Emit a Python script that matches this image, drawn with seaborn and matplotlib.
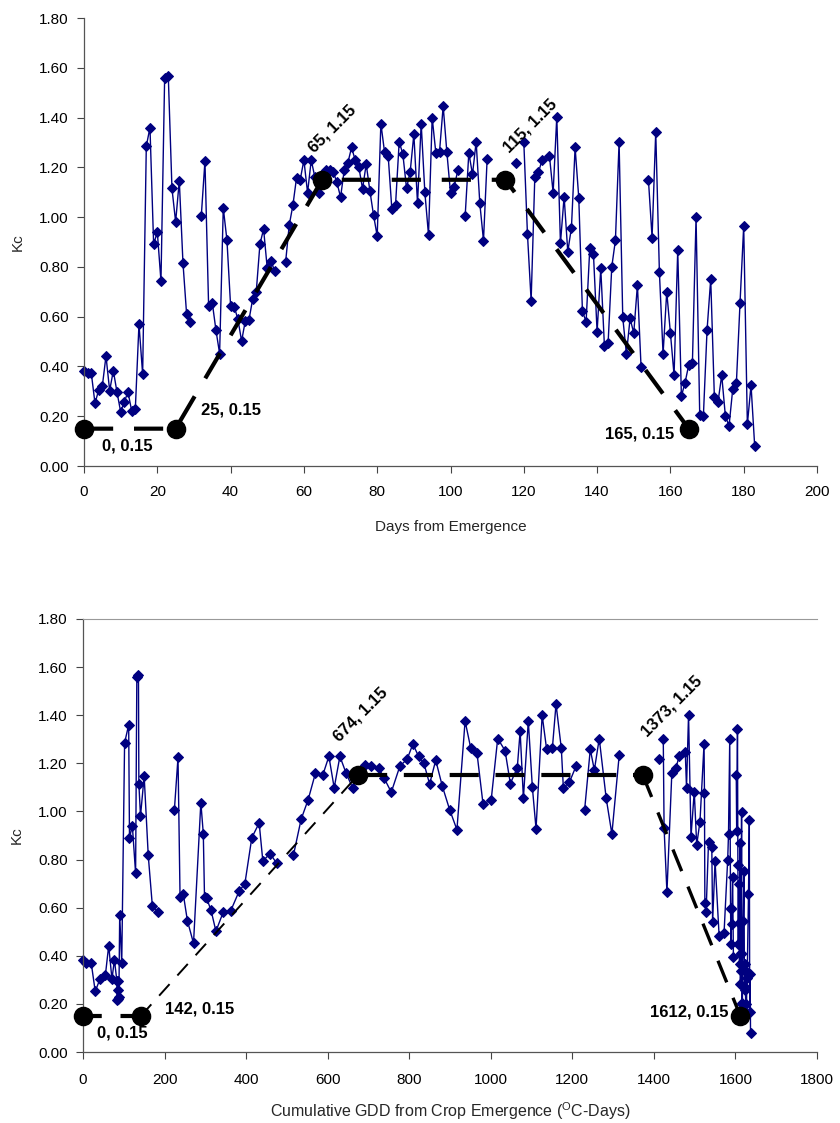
import numpy as np
import pandas as pd
import matplotlib
matplotlib.use("Agg")
import matplotlib.pyplot as plt
from matplotlib import font_manager
import seaborn as sns

# Daily crop coefficient observations (days with no measurement are omitted)
days = [0, 1, 2, 3, 4, 5, 6, 7, 8, 9, 10, 11, 12, 13, 14, 15, 16, 17, 18, 19,
        20, 21, 22, 23, 24, 25, 26, 27, 28, 29, 32, 33, 34, 35, 36, 37, 38, 39,
        40, 41, 42, 43, 44, 45, 46, 47, 48, 49, 50, 51, 52, 55, 56, 57, 58, 59,
        60, 61, 62, 63, 64, 65, 66, 67, 68, 69, 70, 71, 72, 73, 74, 75, 76, 77,
        78, 79, 80, 81, 82, 83, 84, 85, 86, 87, 88, 89, 90, 91, 92, 93, 94, 95,
        96, 97, 98, 99, 100, 101, 102, 104, 105, 106, 107, 108, 109, 110, 118,
        120, 121, 122, 123, 124, 125, 127, 128, 129, 130, 131, 132, 133, 134,
        135, 136, 137, 138, 139, 140, 141, 142, 143, 144, 145, 146, 147, 148,
        149, 150, 151, 152, 154, 155, 156, 157, 158, 159, 160, 161, 162, 163,
        164, 165, 166, 167, 168, 169, 170, 171, 172, 173, 174, 175, 176, 177,
        178, 179, 180, 181, 182, 183]

kc = [0.383, 0.372, 0.372, 0.252, 0.305, 0.321, 0.442, 0.303, 0.383, 0.297,
      0.218, 0.258, 0.297, 0.222, 0.228, 0.570, 0.369, 1.285, 1.360, 0.890,
      0.941, 0.743, 1.557, 1.566, 1.115, 0.981, 1.146, 0.817, 0.609, 0.580,
      1.004, 1.225, 0.643, 0.656, 0.546, 0.452, 1.037, 0.908, 0.643, 0.640,
      0.589, 0.502, 0.582, 0.586, 0.669, 0.700, 0.891, 0.952, 0.794, 0.825,
      0.784, 0.818, 0.968, 1.048, 1.159, 1.151, 1.229, 1.098, 1.229, 1.160,
      1.098, 1.170, 1.191, 1.188, 1.181, 1.140, 1.080, 1.188, 1.218, 1.280,
      1.229, 1.200, 1.114, 1.213, 1.106, 1.008, 0.924, 1.376, 1.262, 1.245,
      1.031, 1.048, 1.303, 1.253, 1.116, 1.182, 1.333, 1.055, 1.376, 1.100,
      0.928, 1.400, 1.258, 1.262, 1.446, 1.262, 1.098, 1.122, 1.188, 1.004,
      1.258, 1.172, 1.303, 1.055, 0.906, 1.235, 1.217, 1.302, 0.931, 0.664,
      1.160, 1.180, 1.230, 1.246, 1.098, 1.403, 0.895, 1.082, 0.861, 0.958,
      1.280, 1.077, 0.621, 0.580, 0.874, 0.853, 0.539, 0.794, 0.482, 0.493,
      0.800, 0.907, 1.301, 0.597, 0.450, 0.593, 0.534, 0.727, 0.396, 1.151,
      0.918, 1.343, 0.778, 0.450, 0.700, 0.535, 0.365, 0.867, 0.281, 0.335,
      0.406, 0.412, 0.999, 0.205, 0.201, 0.546, 0.751, 0.276, 0.258, 0.365,
      0.201, 0.161, 0.308, 0.332, 0.656, 0.964, 0.167, 0.325, 0.080]

# Cumulative growing degree days on each observation day
gdd = [0, 8, 20, 30, 42, 55, 63, 71, 77, 83, 84, 85, 86, 87, 88, 90, 95, 102,
       112, 114, 121, 129, 132, 136, 137, 141, 150, 160, 170, 184, 224, 233,
       238, 246, 256, 271, 289, 295, 298, 303, 314, 326, 344, 362, 383, 397,
       414, 432, 441, 459, 475, 516, 535, 552, 570, 588, 603, 616, 630, 645,
       661, 675, 691, 707, 725, 738, 756, 777, 795, 809, 823, 836, 850, 865,
       881, 899, 917, 937, 951, 966, 981, 1001, 1017, 1035, 1048, 1065, 1072,
       1080, 1092, 1102, 1111, 1126, 1137, 1151, 1160, 1173, 1178, 1193, 1209,
       1230, 1244, 1254, 1266, 1283, 1297, 1315, 1412, 1423, 1425, 1432, 1444,
       1454, 1462, 1477, 1480, 1485, 1491, 1499, 1505, 1513, 1523, 1524, 1525,
       1528, 1534, 1542, 1544, 1550, 1560, 1572, 1581, 1583, 1586, 1588, 1589,
       1590, 1591, 1593, 1595, 1602, 1603, 1605, 1606, 1607, 1608, 1609, 1610,
       1611, 1612, 1613, 1614, 1614, 1615, 1616, 1617, 1619, 1621, 1622, 1623,
       1624, 1625, 1627, 1628, 1629, 1632, 1634, 1635, 1636, 1637]

# Crop coefficient curve break points
curve_days = [0, 25, 65, 115, 165]
curve_gdd = [0, 142, 674, 1373, 1612]
curve_kc = [0.15, 0.15, 1.15, 1.15, 0.15]

df = pd.DataFrame({"day": days, "kc": kc, "gdd": gdd})
df["run"] = (df["day"].diff().fillna(1) > 1).cumsum()

sns.set_theme(style="ticks")
names = {f.name for f in font_manager.fontManager.ttflist}
base_font = "Liberation Sans" if "Liberation Sans" in names else "DejaVu Sans"
narrow_font = "Liberation Sans Narrow" if "Liberation Sans Narrow" in names else base_font
plt.rcParams["font.family"] = [base_font, "DejaVu Sans"]
plt.rcParams["mathtext.fontset"] = "custom"
plt.rcParams["mathtext.rm"] = narrow_font
plt.rcParams["mathtext.it"] = narrow_font

NAVY = "#000080"

fig = plt.figure(figsize=(8.4, 11.23), dpi=100)
ax1 = fig.add_axes([84 / 840, 1 - 466 / 1123, (817 - 84) / 840, (466 - 18) / 1123])
ax2 = fig.add_axes([83 / 840, 1 - 1052 / 1123, (817 - 83) / 840, (1052 - 619) / 1123])


def draw_obs(ax, xcol):
    sns.lineplot(data=df, x=xcol, y="kc", units="run", estimator=None,
                 sort=False, color=NAVY, linewidth=1.0, marker="D",
                 markersize=5.5, markeredgecolor=NAVY, markerfacecolor=NAVY,
                 ax=ax, legend=False, clip_on=False)


def style_axes(ax, xmax, xstep, tick_font, xpad):
    ax.set_xlim(0, xmax)
    ax.set_ylim(0, 1.8)
    ax.set_xticks(np.arange(0, xmax + 1, xstep))
    ax.set_yticks(np.arange(0, 1.81, 0.2))
    ax.set_yticklabels([f"{v:.2f}" for v in np.arange(0, 1.81, 0.2)],
                       fontsize=11)
    ax.set_xticklabels([f"{int(v)}" for v in np.arange(0, xmax + 1, xstep)],
                       fontsize=11, family=tick_font)
    ax.tick_params(direction="out", length=5, width=0.8, colors="#444444",
                   labelcolor="black")
    ax.tick_params(axis="y", pad=6)
    ax.tick_params(axis="x", pad=xpad)
    for side in ("top", "right"):
        ax.spines[side].set_visible(False)
    for side in ("left", "bottom"):
        ax.spines[side].set_color("#555555")
        ax.spines[side].set_linewidth(0.9)
    ax.set_ylabel("Kc", fontsize=11, labelpad=10)
    ax.set_facecolor("white")


# ---- Upper panel: days from emergence ----
draw_obs(ax1, "day")
sns.lineplot(x=curve_days, y=curve_kc, color="black", linewidth=3.0,
             linestyle=(0, (7, 5)), ax=ax1, sort=False, estimator=None)
sns.scatterplot(x=curve_days, y=curve_kc, color="black", s=170,
                edgecolor="black", zorder=5, ax=ax1, legend=False,
                clip_on=False)
style_axes(ax1, 200, 20, base_font, 9)
ax1.set_xlabel("Days from Emergence", fontsize=11, labelpad=15)

bold = dict(fontsize=12, fontweight="bold", color="black")
ax1.text(curve_days[0] + 5, curve_kc[0] - 0.07, f"{curve_days[0]}, {curve_kc[0]:.2f}",
         ha="left", va="center", **bold)
ax1.text(curve_days[1] + 7, curve_kc[1] + 0.075, f"{curve_days[1]}, {curve_kc[1]:.2f}",
         ha="left", va="center", **bold)
ax1.text(curve_days[2] - 1.5, curve_kc[2] + 0.10, f"{curve_days[2]}, {curve_kc[2]:.2f}",
         ha="left", va="bottom", rotation=45, rotation_mode="anchor", **bold)
ax1.text(curve_days[3] + 1.5, curve_kc[3] + 0.10, f"{curve_days[3]}, {curve_kc[3]:.2f}",
         ha="left", va="bottom", rotation=45, rotation_mode="anchor", **bold)
ax1.text(curve_days[4] - 4, curve_kc[4] - 0.02, f"{curve_days[4]}, {curve_kc[4]:.2f}",
         ha="right", va="center", **bold)

# ---- Lower panel: cumulative growing degree days ----
draw_obs(ax2, "gdd")
seg_width = [3.0, 1.4, 3.0, 2.4]
seg_dash = [(0, (4.5, 4.5)), (0, (8, 6)), (0, (7, 4)), (0, (7, 5))]
for i in range(len(curve_gdd) - 1):
    sns.lineplot(x=curve_gdd[i:i + 2], y=curve_kc[i:i + 2], color="black",
                 linewidth=seg_width[i], linestyle=seg_dash[i], ax=ax2,
                 sort=False, estimator=None)
sns.scatterplot(x=curve_gdd, y=curve_kc, color="black", s=170,
                edgecolor="black", zorder=5, ax=ax2, legend=False,
                clip_on=False)
style_axes(ax2, 1800, 200, narrow_font, 10)
ax2.spines["top"].set_visible(True)
ax2.spines["top"].set_color("#999999")
ax2.spines["top"].set_linewidth(0.8)
ax2.set_xlabel(r"Cumulative GDD from Crop Emergence ($^{\mathrm{O}}$C-Days)",
               fontsize=11.5, labelpad=10, family=narrow_font)

ax2.text(35, curve_kc[0] - 0.07, f"{curve_gdd[0]}, {curve_kc[0]:.2f}",
         ha="left", va="center", **bold)
ax2.text(curve_gdd[1] + 60, curve_kc[1] + 0.03, f"{curve_gdd[1]}, {curve_kc[1]:.2f}",
         ha="left", va="center", **bold)
ax2.text(curve_gdd[2] - 40, curve_kc[2] + 0.13, f"{curve_gdd[2]}, {curve_kc[2]:.2f}",
         ha="left", va="bottom", rotation=45, rotation_mode="anchor", **bold)
ax2.text(curve_gdd[3] + 15, curve_kc[3] + 0.15, f"{curve_gdd[3]}, {curve_kc[3]:.2f}",
         ha="left", va="bottom", rotation=45, rotation_mode="anchor", **bold)
ax2.text(curve_gdd[4] - 30, curve_kc[4] + 0.015, f"{curve_gdd[4]}, {curve_kc[4]:.2f}",
         ha="right", va="center", **bold)

fig.savefig("out.png", dpi=100, facecolor="white")
